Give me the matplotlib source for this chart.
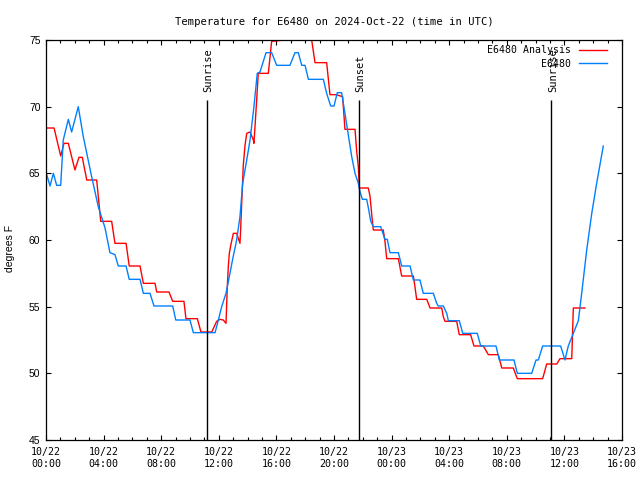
import numpy as np
import matplotlib
matplotlib.use('Agg')
import matplotlib.pyplot as plt
from matplotlib.ticker import MultipleLocator, FixedLocator

# hours since 2024-10-22 00:00 UTC
analysis_t = [0.05, 0.56, 1.02, 1.25, 1.55, 2.01, 2.29, 2.52, 2.83, 3.52, 3.80, 4.56, 4.79, 5.56,
              5.78, 6.53, 6.76, 7.57, 7.69, 8.54, 8.80, 9.58, 9.72, 10.51, 10.76, 11.51, 11.85,
              12.08, 12.31, 12.50, 12.59, 12.66, 12.73, 12.83, 13.01, 13.24, 13.47, 13.52, 13.59,
              13.70, 13.82, 13.94, 14.17, 14.40, 14.44, 14.63, 14.74, 15.44, 15.67, 16.60, 16.80,
              17.64, 18.33, 18.45, 18.68, 19.49, 19.72, 20.14, 20.60, 20.76, 21.46, 21.58, 21.69,
              21.76, 22.38, 22.50, 22.62, 22.73, 23.42, 23.54, 23.66, 24.47, 24.70, 25.51, 25.62,
              25.74, 26.44, 26.67, 27.48, 27.59, 27.71, 28.52, 28.70, 29.49, 29.72, 30.37, 30.72,
              31.41, 31.65, 32.45, 32.73, 34.49, 34.77, 35.47, 35.69, 36.51, 36.62, 37.43]
analysis_v = [68.4, 68.4, 66.3, 67.25, 67.25, 65.25, 66.2, 66.2, 64.5, 64.5, 61.4, 61.4, 59.75, 59.75,
              58.05, 58.05, 56.75, 56.75, 56.1, 56.1, 55.4, 55.4, 54.1, 54.1, 53.1, 53.1, 53.9,
              54.05, 54.0, 53.75, 56.5, 58.0, 59.0, 59.6, 60.5, 60.5, 59.75, 60.9, 62.75,
              65.6, 67.1, 68.0, 68.1, 67.5, 67.25, 70.5, 72.5, 72.5, 74.9, 75.0, 75.6,
              76.0, 75.5, 75.0, 73.3, 73.3, 70.9, 70.9, 70.75, 68.3, 68.3, 66.6, 65.5,
              63.9, 63.9, 63.3, 61.9, 60.75, 60.75, 59.9, 58.6, 58.6, 57.3, 57.3, 56.5,
              55.55, 55.55, 54.9, 54.9, 54.25, 53.9, 53.9, 52.9, 52.9, 52.05, 52.05, 51.4,
              51.4, 50.4, 50.4, 49.6, 49.6, 50.7, 50.7, 51.1, 51.1, 54.9, 54.9]

obs_t = [0.05, 0.28, 0.51, 0.74, 1.02, 1.20, 1.55, 1.78, 2.24, 2.59, 3.17, 3.63, 4.10, 4.44, 4.79,
         5.02, 5.56, 5.78, 6.53, 6.76, 7.22, 7.50, 8.80, 9.01, 10.0, 10.23, 11.74, 11.97, 12.20,
         12.50, 12.73, 12.97, 13.24, 13.47, 13.66, 13.94, 14.17, 14.44, 14.67, 14.86, 15.28, 15.67,
         16.02, 16.94, 17.29, 17.52, 17.76, 17.99, 18.22, 19.26, 19.49, 19.77, 20.0, 20.23, 20.53,
         20.76, 20.99, 21.23, 21.46, 21.69, 21.81, 21.97, 22.27, 22.38, 22.55, 22.73, 23.24, 23.54,
         23.70, 23.89, 24.47, 24.70, 25.28, 25.51, 25.97, 26.20, 26.90, 27.13, 27.24, 27.59, 27.83,
         27.94, 28.70, 28.94, 29.95, 30.19, 31.25, 31.48, 32.5, 32.73, 33.73, 34.03, 34.19, 34.49,
         35.74, 36.04, 36.27, 36.62, 36.97, 37.20, 37.55, 37.90, 38.24, 38.70]
obs_v = [64.9, 64.05, 65.0, 64.1, 64.1, 67.5, 69.05, 68.1, 70.0, 67.75, 64.75, 62.5, 60.9, 59.05, 58.9,
         58.05, 58.05, 57.05, 57.05, 56.0, 56.0, 55.05, 55.05, 54.0, 54.0, 53.05, 53.05, 54.0, 55.0,
         56.0, 57.25, 58.6, 60.0, 61.75, 64.25, 66.0, 67.5, 70.0, 72.5, 72.6, 74.05, 74.05,
         73.1, 73.1, 74.05, 74.05, 73.1, 73.1, 72.05, 72.05, 71.0, 70.05, 70.05, 71.05, 71.05,
         69.5, 67.9, 66.25, 65.0, 64.25, 63.6, 63.05, 63.05, 62.45, 61.4, 61.0, 61.0, 60.05,
         60.05, 59.05, 59.05, 58.05, 58.05, 57.0, 57.0, 56.0, 56.0, 55.25, 55.05, 55.05, 54.5,
         53.95, 53.95, 53.0, 53.0, 52.05, 52.05, 51.0, 51.0, 50.0, 50.0, 51.0, 51.0, 52.05,
         52.05, 51.0, 52.05, 53.0, 53.95, 56.0, 59.25, 62.0, 64.25, 67.05]

sun_t = [11.17, 21.72, 35.10]
sun_labels = ['Sunrise', 'Sunset', 'Sunrise']

xtick_t = [0, 4, 8, 12, 16, 20, 24, 28, 32, 36, 40]
xtick_labels = ['10/22\n00:00', '10/22\n04:00', '10/22\n08:00', '10/22\n12:00', '10/22\n16:00',
                '10/22\n20:00', '10/23\n00:00', '10/23\n04:00', '10/23\n08:00', '10/23\n12:00',
                '10/23\n16:00']

mono = 'DejaVu Sans Mono'

fig = plt.figure(figsize=(6.4, 4.8), dpi=100)
ax = fig.add_axes([46 / 640, 40 / 480, 576 / 640, 400 / 480])

ax.plot(analysis_t, analysis_v, color='#ff0000', lw=1.0, label='E6480 Analysis')
ax.plot(obs_t, obs_v, color='#0080ff', lw=1.0, label='E6480')

# sunrise / sunset markers
ax.vlines(sun_t, 45, 70.5, colors='black', lw=1.0)
for t, lab in zip(sun_t, sun_labels):
    ax.text(t + 0.1, 71.1, lab, rotation=90, ha='center', va='bottom',
            family=mono, fontsize=7.5)

ax.set_xlim(0, 40)
ax.set_ylim(45, 75)
ax.xaxis.set_major_locator(FixedLocator(xtick_t))
ax.set_xticklabels(xtick_labels, family=mono, fontsize=7.2)
ax.xaxis.set_minor_locator(MultipleLocator(1))
ax.yaxis.set_major_locator(MultipleLocator(5))
for lab in ax.get_yticklabels():
    lab.set_family('Liberation Sans')
    lab.set_fontsize(7.5)

ax.tick_params(which='both', direction='in', top=True, right=True, width=0.8)
ax.tick_params(which='major', length=3.5)
ax.tick_params(which='minor', length=2)
ax.tick_params(axis='x', pad=5)
ax.tick_params(axis='y', pad=4)
for s in ax.spines.values():
    s.set_linewidth(0.9)

ax.set_ylabel('degrees F', family='Liberation Sans', fontsize=7.5)
ax.yaxis.set_label_coords(-0.054, 0.48)
ax.set_title('Temperature for E6480 on 2024-Oct-22 (time in UTC)', family=mono,
             fontsize=7.6, pad=11)

ax.legend(loc='upper right', bbox_to_anchor=(0.984, 1.0), frameon=False, markerfirst=False,
          prop={'family': mono, 'size': 7.1}, handlelength=2.9, handletextpad=0.75,
          labelspacing=0.35, borderaxespad=0.3, borderpad=0.25)

fig.savefig('out.png', dpi=100)
